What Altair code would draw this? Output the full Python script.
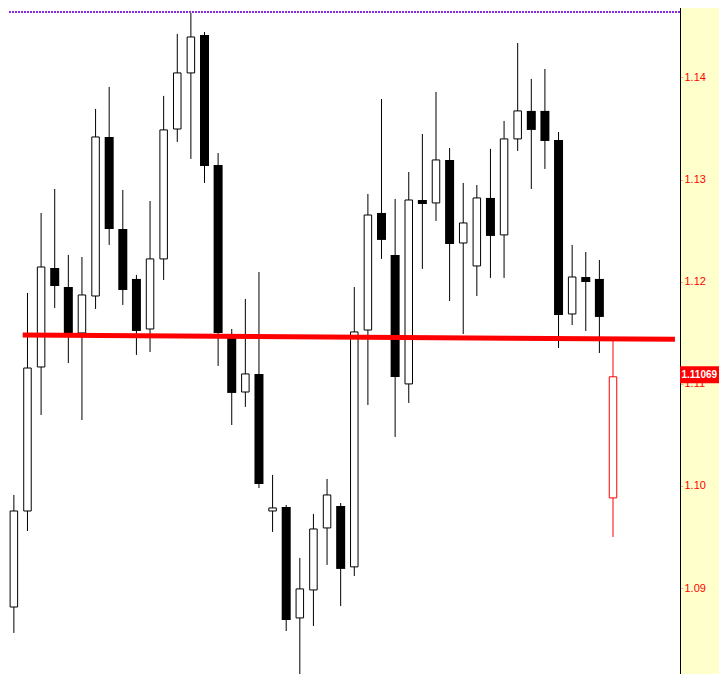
import altair as alt
import pandas as pd

# OHLC values (oldest -> newest, last one is the live candle)
opens = [1.08815, 1.09755, 1.11165, 1.12134, 1.11948, 1.11498, 1.11860, 1.13417, 1.12516, 1.12027,
         1.11537, 1.12223, 1.13495, 1.14044, 1.14416, 1.13143, 1.11459, 1.10920, 1.11097, 1.09755,
         1.09794, 1.08708, 1.08982, 1.09589, 1.09804, 1.09208, 1.11527, 1.12673, 1.12262, 1.10999,
         1.12800, 1.12771, 1.13192, 1.12379, 1.12154, 1.12820, 1.12458, 1.13398, 1.13672, 1.13672,
         1.13388, 1.11684, 1.12046, 1.12027, 1.09883]
highs = [1.09912, 1.11890, 1.12673, 1.12908, 1.12262, 1.12242, 1.13691, 1.13907, 1.12898, 1.12066,
         1.12790, 1.13819, 1.14426, 1.14631, 1.14445, 1.13260, 1.11537, 1.11831, 1.12095, 1.10108,
         1.09814, 1.09295, 1.09726, 1.10069, 1.09833, 1.11948, 1.12859, 1.13789, 1.12810, 1.13074,
         1.13446, 1.13858, 1.13309, 1.12967, 1.12947, 1.13300, 1.13574, 1.14337, 1.13985, 1.14083,
         1.13466, 1.12360, 1.12291, 1.12213, 1.11439]
lows = [1.08561, 1.09559, 1.10695, 1.11743, 1.11204, 1.10646, 1.11733, 1.12360, 1.11772, 1.11283,
        1.11312, 1.12017, 1.13368, 1.13202, 1.12967, 1.11175, 1.10597, 1.10774, 1.09980, 1.09550,
        1.08580, 1.08120, 1.08629, 1.09227, 1.08825, 1.09119, 1.10793, 1.12223, 1.10480, 1.10813,
        1.12125, 1.12595, 1.11811, 1.11488, 1.11860, 1.12037, 1.12037, 1.13280, 1.12908, 1.13104,
        1.11351, 1.11576, 1.11518, 1.11302, 1.09501]
closes = [1.09755, 1.11155, 1.12144, 1.11958, 1.11498, 1.11870, 1.13417, 1.12516, 1.11919, 1.11518,
          1.12223, 1.13486, 1.14044, 1.14396, 1.13133, 1.11498, 1.10911, 1.11097, 1.10020, 1.09785,
          1.08688, 1.08992, 1.09579, 1.09912, 1.09188, 1.11508, 1.12653, 1.12409, 1.11067, 1.12800,
          1.12761, 1.13192, 1.12369, 1.12575, 1.12820, 1.12448, 1.13398, 1.13672, 1.13486, 1.13378,
          1.11674, 1.12046, 1.11997, 1.11655, 1.11069]

level_bar = [0.65, 48.55]          # bar index where the red level line starts / ends
level_price = [1.11478, 1.11436]   # price at those ends
dotted_price = [1.14641]
current_price = [1.11069]
tick_values = [1.09, 1.10, 1.11, 1.12, 1.13, 1.14]

n = len(opens)
kinds = ["up" if c >= o else "down" for o, c in zip(opens, closes)]
kinds[-1] = "current"
df = pd.DataFrame({"i": list(range(n)), "open": opens, "high": highs,
                   "low": lows, "close": closes, "kind": kinds})

xs = alt.Scale(domain=[-0.6512, 48.553], nice=False, zero=False)
ys = alt.Scale(domain=[1.08022, 1.14758], nice=False, zero=False)

X = alt.X("i:Q", scale=xs, axis=None, title=None)

yaxis = alt.Axis(orient="right", values=tick_values, format=".2f", grid=False,
                 domainColor="black", domainWidth=1, tickColor="#FFA8A8", tickSize=3,
                 labelColor="#FF0000", labelFont="Liberation Sans", labelFontSize=11,
                 labelPadding=1, title=None)

base = alt.Chart(df)

wicks = base.transform_filter("datum.kind != 'current'").mark_rule(
    color="black", strokeWidth=1).encode(
    x=X, y=alt.Y("low:Q", scale=ys, axis=yaxis, title=None), y2="high:Q")

up_bodies = base.transform_filter("datum.kind == 'up'").mark_bar(
    size=7.5, fill="white", stroke="black", strokeWidth=1).encode(
    x=X, y=alt.Y("open:Q", scale=ys, title=None), y2="close:Q")

down_bodies = base.transform_filter("datum.kind == 'down'").mark_bar(
    size=9, color="black").encode(
    x=X, y=alt.Y("open:Q", scale=ys, title=None), y2="close:Q")

cur_wick = base.transform_filter("datum.kind == 'current'").mark_rule(
    color="#FF0000", strokeWidth=1).encode(
    x=X, y=alt.Y("low:Q", scale=ys, title=None), y2="high:Q")

cur_body = base.transform_filter("datum.kind == 'current'").mark_bar(
    size=7.5, fill="white", stroke="#FF0000", strokeWidth=1).encode(
    x=X, y=alt.Y("open:Q", scale=ys, title=None), y2="close:Q")

lvl_df = pd.DataFrame({"x1": [level_bar[0]], "x2": [level_bar[1]],
                       "p1": [level_price[0]], "p2": [level_price[1]]})
level = alt.Chart(lvl_df).mark_rule(color="#FF0000", strokeWidth=5).encode(
    x=alt.X("x1:Q", scale=xs, axis=None, title=None), x2="x2:Q",
    y=alt.Y("p1:Q", scale=ys, title=None), y2="p2:Q")

dot_df = pd.DataFrame({"p": dotted_price})
dotted = alt.Chart(dot_df).mark_rule(color="#8A2BE2", strokeWidth=2,
                                     strokeDash=[2, 1]).encode(
    y=alt.Y("p:Q", scale=ys, title=None))

cur_df = pd.DataFrame({"p": current_price,
                       "label": [f"{v:.5f}" for v in current_price]})
label_box = alt.Chart(cur_df).mark_tick(orient="horizontal", color="#FF0000", opacity=1,
                                        thickness=17, size=47, yOffset=-2).encode(
    x=alt.value(703.5), y=alt.Y("p:Q", scale=ys, title=None))
label_text = alt.Chart(cur_df).mark_text(align="left", baseline="middle",
                                         font="Liberation Sans", fontSize=10,
                                         fontWeight="bold", color="white", dy=-2).encode(
    x=alt.value(681.5), y=alt.Y("p:Q", scale=ys, title=None), text="label:N")

chart = alt.layer(wicks, up_bodies, down_bodies, cur_wick, cur_body, level, dotted,
                  label_box, label_text).properties(
    width=680, height=688, autosize="none",
    padding={"left": -8, "top": -8, "right": 39, "bottom": -14},
    background="#FFFFCC"
).configure_view(fill="white", strokeWidth=0)

chart.save("out.html", embed_options={"renderer": "svg", "actions": False})
